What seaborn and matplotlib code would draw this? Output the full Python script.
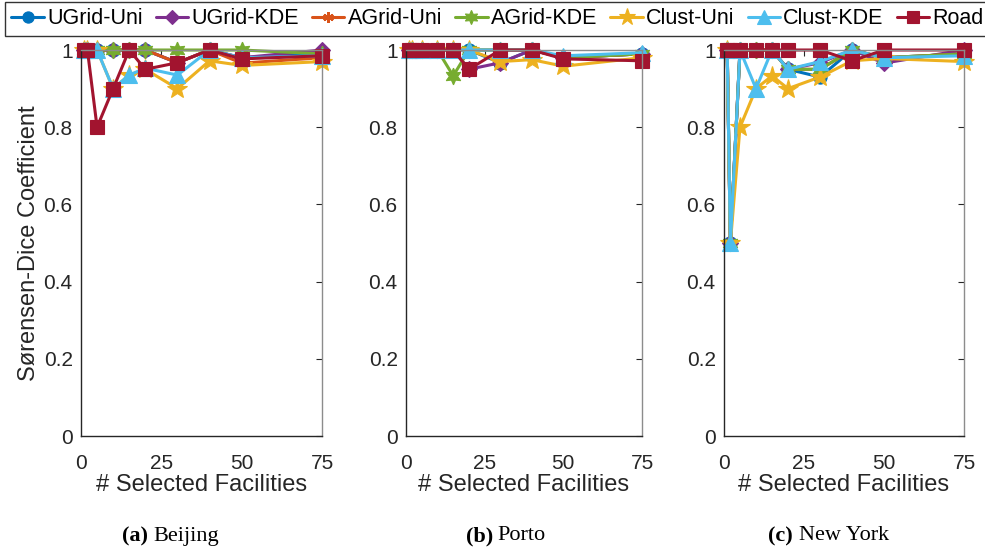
import numpy as np
import pandas as pd
import matplotlib
matplotlib.use("Agg")
import matplotlib.pyplot as plt
import seaborn as sns

sns.set_theme(style="white")
plt.rcParams['font.family'] = ['Liberation Sans', 'DejaVu Sans']

x_vals = [1, 2, 5, 10, 15, 20, 30, 40, 50, 75]
series_names = ["UGrid-Uni", "UGrid-KDE", "AGrid-Uni", "AGrid-KDE", "Clust-Uni", "Clust-KDE", "Road"]
cities = ["Beijing", "Porto", "New York"]
captions = ["(a)", "(b)", "(c)"]

beijing = {
    "UGrid-Uni": [1, 1, 1, 1, 1, 1, 0.967, 1, 0.98, 0.99],
    "UGrid-KDE": [1, 1, 1, 1, 1, 1, 0.967, 1, 0.98, 1.0],
    "AGrid-Uni": [1, 1, 1, 1, 1, 1, 0.967, 1, 0.966, 0.98],
    "AGrid-KDE": [1, 1, 1, 1, 1, 1, 1, 1, 1, 0.99],
    "Clust-Uni": [1, 1, 1, 0.9, 0.935, 0.95, 0.9, 0.972, 0.96, 0.97],
    "Clust-KDE": [1, 1, 1, 0.9, 0.935, 0.953, 0.935, 1, 0.98, 0.985],
    "Road":      [1, 1, 0.8, 0.9, 1, 0.95, 0.967, 1, 0.977, 0.985],
}
porto = {
    "UGrid-Uni": [1, 1, 1, 1, 1, 1, 0.967, 1, 0.98, 0.99],
    "UGrid-KDE": [1, 1, 1, 1, 1, 0.95, 0.967, 1, 0.98, 0.99],
    "AGrid-Uni": [1, 1, 1, 1, 1, 1, 1, 1, 0.98, 0.99],
    "AGrid-KDE": [1, 1, 1, 1, 0.933, 1, 1, 1, 0.98, 0.99],
    "Clust-Uni": [1, 1, 1, 1, 1, 1, 0.97, 0.975, 0.958, 0.98],
    "Clust-KDE": [1, 1, 1, 1, 1, 1, 1, 1, 0.985, 0.993],
    "Road":      [1, 1, 1, 1, 1, 0.95, 1, 1, 0.977, 0.972],
}
new_york = {
    "UGrid-Uni": [1, 0.5, 1, 1, 1, 0.95, 0.93, 1, 0.98, 0.99],
    "UGrid-KDE": [1, 0.5, 1, 1, 1, 0.95, 0.967, 1, 0.966, 1.0],
    "AGrid-Uni": [1, 0.5, 1, 1, 1, 0.95, 0.95, 1, 0.98, 0.99],
    "AGrid-KDE": [1, 0.5, 1, 1, 1, 0.95, 0.95, 1, 0.98, 0.99],
    "Clust-Uni": [1, 0.5, 0.8, 0.9, 0.933, 0.9, 0.93, 0.972, 0.978, 0.97],
    "Clust-KDE": [1, 0.5, 1, 0.9, 1, 0.95, 0.97, 1, 0.98, 0.985],
    "Road":      [1, 1, 1, 1, 1, 1, 1, 0.972, 1, 1],
}
city_data = [beijing, porto, new_york]

x_ticks = [0, 25, 50, 75]
y_ticks = [0, 0.2, 0.4, 0.6, 0.8, 1]
y_tick_labels = ["0", "0.2", "0.4", "0.6", "0.8", "1"]

colors = {
    "UGrid-Uni": "#0072BD", "UGrid-KDE": "#7E2F8E", "AGrid-Uni": "#D95319",
    "AGrid-KDE": "#77AC30", "Clust-Uni": "#EDB120", "Clust-KDE": "#4DBEEE",
    "Road": "#A2142F",
}
markers = {
    "UGrid-Uni": "o", "UGrid-KDE": "D", "AGrid-Uni": (6, 2, 0),
    "AGrid-KDE": (6, 1, 0), "Clust-Uni": "*", "Clust-KDE": "^", "Road": "s",
}
msizes = {
    "UGrid-Uni": 9.5, "UGrid-KDE": 8.5, "AGrid-Uni": 9, "AGrid-KDE": 12,
    "Clust-Uni": 15, "Clust-KDE": 12, "Road": 9.5,
}

W, H = 985, 552
fig = plt.figure(figsize=(W / 100, H / 100), dpi=100)
txt = "#262626"
axes_px = [(81, 322), (406, 642), (724, 964)]
top_px, bot_px = 50, 436
cap_splits = [(148, 153), (493, 497), (793, 799)]

for i, (l, r) in enumerate(axes_px):
    ax = fig.add_axes([l / W, (H - bot_px) / H, (r - l) / W, (bot_px - top_px) / H])
    for name in series_names:
        df = pd.DataFrame({"x": x_vals, "y": city_data[i][name]})
        mk = markers[name]
        sns.lineplot(data=df, x="x", y="y", ax=ax, color=colors[name], marker=mk,
                     markersize=msizes[name], linewidth=2.2,
                     markeredgecolor=colors[name],
                     markeredgewidth=1.6 if mk == (6, 2, 0) else 0.8,
                     clip_on=False, label=name if i == 0 else None, legend=False)
    ax.set_xlim(0, 75)
    ax.set_ylim(0, 1)
    ax.set_xticks(x_ticks)
    ax.set_xticklabels([str(t) for t in x_ticks])
    ax.set_yticks(y_ticks)
    ax.set_yticklabels(y_tick_labels)
    ax.tick_params(direction="in", length=4, width=0.8, top=True, right=True,
                   labelsize=15, colors=txt)
    ax.tick_params(axis="x", pad=13)
    ax.tick_params(axis="y", pad=6)
    for s in ["left", "bottom"]:
        ax.spines[s].set_color("#262626")
        ax.spines[s].set_linewidth(1.0)
    for s in ["right", "top"]:
        ax.spines[s].set_color("#8c8c8c")
        ax.spines[s].set_linewidth(1.0)
    ax.set_xlabel("# Selected Facilities", fontsize=17, color=txt, labelpad=1)
    if i == 0:
        ax.set_ylabel("Sørensen-Dice Coefficient", fontsize=17, color=txt)
        ax.yaxis.set_label_coords((40 - l) / (r - l), 0.5)
    else:
        ax.set_ylabel("")
    a, b = cap_splits[i]
    fig.text(a / W, 1 - 536 / H, captions[i],
             fontsize=16, ha="right", va="center",
             family=["Liberation Serif", "DejaVu Serif"], fontweight="bold", color="black")
    fig.text(b / W, 1 - 536 / H, cities[i],
             fontsize=16, ha="left", va="center",
             family=["Liberation Serif", "DejaVu Serif"], color="black")

handles, labels = fig.axes[0].get_legend_handles_labels()
leg = fig.legend(handles, labels, loc="upper left", bbox_to_anchor=(5 / W, 1 - 2 / H, 1.0, 0.0),
                 ncol=7, mode="expand", frameon=True, fancybox=False, fontsize=15.5,
                 handlelength=1.5, handletextpad=0.15, columnspacing=0.3, borderaxespad=0,
                 borderpad=0.3, markerscale=0.85)
leg.get_frame().set_edgecolor("black")
leg.get_frame().set_linewidth(1.0)
for t in leg.get_texts():
    t.set_color("black")

fig.savefig("out.png", dpi=100)
